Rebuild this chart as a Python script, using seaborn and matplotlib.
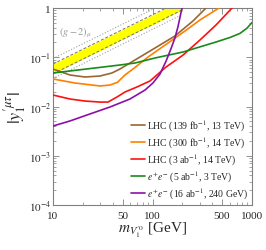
import math

import matplotlib
matplotlib.use("Agg")
import matplotlib.pyplot as plt
import matplotlib.ticker as mticker
import pandas as pd
import seaborn as sns

# ── DATA ──
# (g-2)_mu band: edges at m = 10 and m = 200 GeV
g2_mass = [10, 200]
g2_low = [0.046, 0.92]
g2_high = [0.073, 1.46]
g2_low2 = [0.037, 0.74]
g2_high2 = [0.094, 1.88]

lhc139_m = [10, 14.8, 21.0, 29.7, 39.1, 47.1, 66.7, 106, 168, 255, 345, 380]
lhc139_y = [0.0577, 0.0436, 0.0397, 0.0416, 0.0479, 0.0577, 0.088, 0.154, 0.27, 0.545, 1.0, 1.2]

lhc300_m = [10, 16.6, 29.7, 37.4, 44.5, 52.9, 66.7, 90.1, 134, 212, 300, 466, 520]
lhc300_y = [0.0362, 0.030, 0.0261, 0.0273, 0.031, 0.0436, 0.062, 0.101, 0.177, 0.341, 0.571, 1.0, 1.2]

lhc3ab_m = [10, 14.8, 21.0, 29.7, 35.7, 44.0, 52.9, 69.8, 94.4, 137, 203, 300, 435, 630, 700]
lhc3ab_y = [0.0171, 0.0142, 0.0129, 0.0123, 0.0123, 0.0156, 0.0197, 0.0249, 0.033, 0.0634, 0.111,
            0.224, 0.452, 1.0, 1.25]

ee3tev_m = [10, 47.1, 66.7, 106, 203, 435, 601, 757, 891, 1000]
ee3tev_y = [0.0479, 0.0696, 0.0764, 0.0966, 0.128, 0.204, 0.252, 0.305, 0.39, 0.508]

ee240_m = [10, 14.8, 23.5, 37.4, 59.4, 84.1, 101, 119, 137, 153, 168, 180, 193, 198, 202]
ee240_y = [0.00402, 0.00508, 0.00705, 0.00977, 0.0142, 0.0216, 0.030, 0.0457, 0.0839,
           0.147, 0.246, 0.411, 0.791, 1.0, 1.25]

labels = [
    r"LHC (139 fb$^{-1}$, 13 TeV)",
    r"LHC (300 fb$^{-1}$, 14 TeV)",
    r"LHC (3 ab$^{-1}$, 14 TeV)",
    r"$e^{+}e^{-}$ (5 ab$^{-1}$, 3 TeV)",
    r"$e^{+}e^{-}$ (16 ab$^{-1}$, 240 GeV)",
]
colors = ["#9a6633", "#ff8000", "#ff1010", "#1a8a1a", "#8a10a8"]
x_ticks = [10, 50, 100, 500, 1000]

# ── STYLE ──
sns.set_theme(style="ticks")
plt.rcParams["font.family"] = ["Liberation Serif", "DejaVu Serif"]
plt.rcParams["mathtext.fontset"] = "stix"

fig = plt.figure(figsize=(2.66, 2.51), dpi=100)
ax = fig.add_axes([53 / 266, 1 - 206 / 251, 199 / 266, 197 / 251])
ax.set_xscale("log")
ax.set_yscale("log")

# (g-2) band
ax.fill_between(g2_mass, g2_low, g2_high, color="#ffff00", lw=0, zorder=1)
for edge in (g2_low, g2_high):
    sns.lineplot(x=g2_mass, y=edge, ax=ax, color="#707070", lw=0.7,
                 linestyle=(0, (3, 2)), zorder=2)
for edge in (g2_low2, g2_high2):
    sns.lineplot(x=g2_mass, y=edge, ax=ax, color="#a0a0a0", lw=0.8,
                 linestyle=(0, (1, 1.6)), zorder=2)
ax.text(11.5, 0.32, r"$(g-2)_\mu$", color="#999999", fontsize=7.5,
        ha="left", va="center")

curves = [
    (lhc139_m, lhc139_y),
    (lhc300_m, lhc300_y),
    (lhc3ab_m, lhc3ab_y),
    (ee3tev_m, ee3tev_y),
    (ee240_m, ee240_y),
]
for (m, y), lab, c in zip(curves, labels, colors):
    df = pd.DataFrame({"m": m, "y": y})
    sns.lineplot(data=df, x="m", y="y", ax=ax, color=c, lw=1.2,
                 sort=False, estimator=None, label=lab, zorder=3)

ax.set_xlim(10, 1000)
ax.set_ylim(1e-4, 1)

ax.xaxis.set_major_locator(mticker.FixedLocator(x_ticks))
ax.xaxis.set_major_formatter(mticker.FixedFormatter([str(t) for t in x_ticks]))
ax.xaxis.set_minor_locator(mticker.LogLocator(base=10, subs=range(2, 10), numticks=20))
ax.xaxis.set_minor_formatter(mticker.NullFormatter())
ax.yaxis.set_major_locator(mticker.LogLocator(base=10, numticks=10))
ax.yaxis.set_minor_locator(mticker.LogLocator(base=10, subs=range(2, 10), numticks=20))
ax.yaxis.set_minor_formatter(mticker.NullFormatter())
ax.yaxis.set_major_formatter(mticker.FuncFormatter(
    lambda v, p: "1" if abs(v - 1) < 1e-9 else r"$10^{%d}$" % round(math.log10(v))))

ax.tick_params(which="both", direction="in", top=True, right=True,
               color="#808080", labelsize=8)
ax.tick_params(axis="x", pad=4.5)
ax.tick_params(axis="y", pad=1.5)
ax.tick_params(which="major", length=4, width=0.6)
ax.tick_params(which="minor", length=2, width=0.5)
for sp in ax.spines.values():
    sp.set_color("#808080")
    sp.set_linewidth(0.8)

ax.set_xlabel(r"$m_{V_1^{\prime 0}}$ [GeV]", fontsize=11, labelpad=0)
ax.set_ylabel(r"$|y_1^{\prime\mu\tau}|$", fontsize=13, labelpad=0)

leg = ax.legend(loc="lower right", frameon=False, fontsize=7,
                handlelength=1.4, handletextpad=0.2, labelspacing=0.2,
                borderaxespad=0.3, borderpad=0.1)

fig.savefig("out.png", dpi=100)
